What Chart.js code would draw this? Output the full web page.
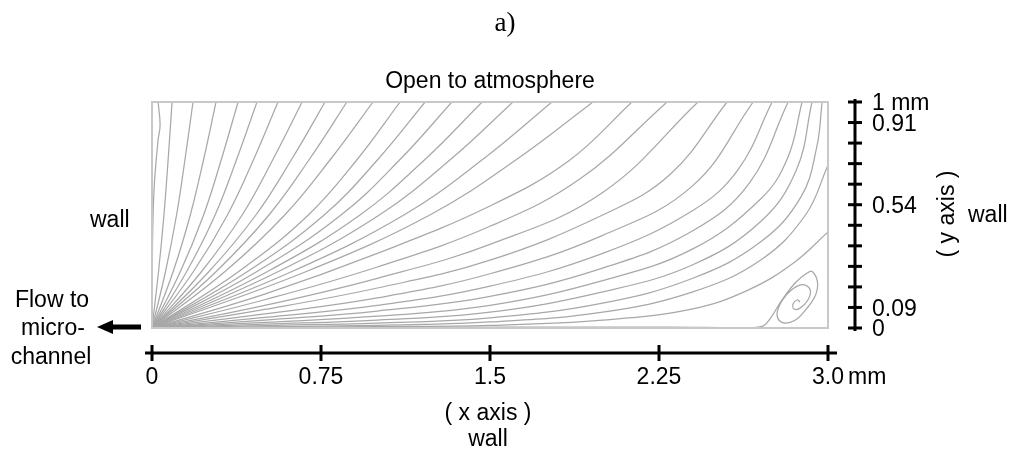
<!DOCTYPE html>
<html>
<head>
<meta charset="utf-8">
<script src="https://cdn.jsdelivr.net/npm/chart.js@4.4.1/dist/chart.umd.min.js"></script>
<style>
  html, body { margin: 0; padding: 0; background: #ffffff; }
  #wrap { width: 1018px; height: 458px; }
</style>
</head>
<body>
<div id="wrap"><canvas id="flow" width="1018" height="458"></canvas></div>
<script>
// Streamlines of the reservoir, in mm: x along the floor (0..3), y up to the free surface (0..1).
// Every line starts at the outlet corner (0, 0).

// Steep lines of the fan that reach the free surface near the left wall
const leftFanLines = [
  [[0,0],[0.002,0.345],[0.009,0.611],[0.027,0.832],[0.036,0.898],[0.027,1]],
  [[0,0],[0.029,0.25],[0.053,0.5],[0.072,0.75],[0.089,1]],
  [[0,0],[0.060,0.25],[0.109,0.5],[0.147,0.75],[0.182,1]],
  [[0,0],[0.094,0.25],[0.170,0.5],[0.230,0.75],[0.284,1]],
  [[0,0],[0.126,0.25],[0.229,0.5],[0.309,0.75],[0.382,1]],
  [[0,0],[0.154,0.25],[0.280,0.5],[0.377,0.75],[0.466,1]],
  [[0,0],[0.184,0.25],[0.335,0.5],[0.453,0.75],[0.559,1]],
  [[0,0],[0.220,0.25],[0.400,0.5],[0.539,0.75],[0.666,1]],
  [[0,0],[0.253,0.25],[0.461,0.5],[0.622,0.75],[0.768,1]],
  [[0,0],[0.285,0.25],[0.519,0.5],[0.701,0.75],[0.865,1]],
  [[0,0],[0.324,0.25],[0.589,0.5],[0.795,0.75],[0.981,1]]
];

// Lines of the middle of the fan
const middleLines = [
  [[0,0],[0.385,0.25],[0.694,0.5],[0.914,0.75],[1.101,1]],
  [[0,0],[0.424,0.25],[0.764,0.5],[1.006,0.75],[1.212,1]],
  [[0,0],[0.466,0.25],[0.839,0.5],[1.105,0.75],[1.331,1]],
  [[0,0],[0.513,0.25],[0.923,0.5],[1.216,0.75],[1.465,1]],
  [[0,0],[0.561,0.25],[1.009,0.5],[1.330,0.75],[1.602,1]],
  [[0,0],[0.621,0.25],[1.118,0.5],[1.473,0.75],[1.775,1]],
  [[0,0],[0.685,0.25],[1.233,0.5],[1.624,0.75],[1.957,1]]
];

// Shallow lines that run along the floor and bend up towards the right wall
const cornerLines = [
  [[0,0],[0.5,0.15],[1.0,0.33],[1.5,0.54],[1.85,0.74],[2.130,1]],
  [[0,0],[0.5,0.125],[1.0,0.27],[1.5,0.45],[1.9,0.66],[2.286,1]],
  [[0,0],[0.5,0.10],[1.0,0.22],[1.5,0.37],[2.0,0.60],[2.423,1]],
  [[0,0],[0.5,0.082],[1.0,0.177],[1.5,0.30],[2.0,0.50],[2.3,0.68],[2.552,1]],
  [[0,0],[0.5,0.062],[1.0,0.133],[1.5,0.24],[2.0,0.41],[2.4,0.63],[2.668,1]],
  [[0,0],[0.5,0.047],[1.0,0.100],[1.5,0.185],[2.0,0.33],[2.4,0.52],[2.6,0.70],[2.752,1]],
  [[0,0],[0.5,0.035],[1.0,0.075],[1.5,0.14],[2.0,0.265],[2.4,0.43],[2.65,0.64],[2.823,1]],
  [[0,0],[0.5,0.025],[1.0,0.052],[1.5,0.10],[2.0,0.21],[2.4,0.35],[2.7,0.57],[2.82,0.75],[2.885,1]],
  [[0,0],[0.5,0.017],[1.0,0.035],[1.5,0.07],[2.0,0.16],[2.4,0.28],[2.7,0.47],[2.86,0.70],[2.929,1]],
  [[0,0],[0.5,0.011],[1.0,0.022],[1.5,0.045],[2.0,0.11],[2.4,0.22],[2.7,0.38],[2.88,0.58],[2.95,0.80],[2.974,1]]
];

// Lines ending on the right wall
const wallLines = [
  [[0,0],[1.0,0.012],[1.5,0.027],[2.0,0.07],[2.4,0.16],[2.7,0.30],[2.9,0.50],[3.0,0.72]],
  [[0,0],[1.0,0.006],[1.5,0.012],[2.0,0.035],[2.4,0.085],[2.65,0.17],[2.85,0.29],[3.0,0.425]]
];

// Floor line that lifts off at the separation point and winds into the corner eddy
const eddyPath = [
  [0,0],[0.8,0.002],[1.6,0.004],[2.3,0.004],[2.65,0.002],[2.71,0.008],
  [2.745,0.044],[2.796,0.124],[2.854,0.199],[2.907,0.243],[2.930,0.250],
  [2.953,0.204],[2.945,0.146],[2.899,0.078],[2.852,0.033],[2.798,0.024],
  [2.774,0.058],[2.794,0.117],[2.840,0.170],[2.889,0.192],[2.921,0.168],
  [2.911,0.124],[2.876,0.088],[2.849,0.084],[2.845,0.106],[2.863,0.124],[2.876,0.115]
];

// Axis scales (mm)
const xTickValues = [0, 0.75, 1.5, 2.25, 3.0];
const xTickLabels = ['0', '0.75', '1.5', '2.25', '3.0'];
const yTickValues = [0, 0.0909, 0.1818, 0.2727, 0.3636, 0.4545, 0.5455, 0.6364, 0.7273, 0.8182, 0.9091, 1];
const yTickLabels = ['0', '0.09', '', '', '', '', '0.54', '', '', '', '0.91', '1 mm'];
const unitLabel = 'mm';

const SANS = '"Liberation Sans", Arial, Helvetica, sans-serif';
const SERIF = '"Liberation Serif", "Times New Roman", serif';
const LINE_GREY = 'rgb(168,168,168)';

function toPoints(list) { return list.map(p => ({ x: p[0], y: p[1] })); }

const datasets = [];
[leftFanLines, middleLines, cornerLines, wallLines, [eddyPath]].forEach(group => {
  group.forEach(line => {
    datasets.push({
      data: toPoints(line),
      showLine: true,
      borderColor: LINE_GREY,
      borderWidth: 1.25,
      pointRadius: 0,
      tension: 0.4,
      fill: false
    });
  });
});

function seg(ctx, x1, y1, x2, y2) {
  ctx.beginPath(); ctx.moveTo(x1, y1); ctx.lineTo(x2, y2); ctx.stroke();
}

// Frame, offset axes, annotations and outlet arrow
const decor = {
  id: 'decor',
  afterDatasetsDraw(chart) {
    const { ctx, chartArea: a, scales: { x, y } } = chart;
    ctx.save();

    // reservoir outline
    ctx.strokeStyle = 'rgb(200,200,200)';
    ctx.lineWidth = 2;
    ctx.strokeRect(a.left, a.top, a.right - a.left, a.bottom - a.top);

    ctx.fillStyle = '#000';
    ctx.strokeStyle = '#000';
    ctx.lineWidth = 3;
    ctx.lineCap = 'butt';

    // x axis below the floor
    const axY = a.bottom + 25;
    seg(ctx, a.left - 7, axY, a.right + 9, axY);
    ctx.font = '23px ' + SANS;
    ctx.textBaseline = 'alphabetic';
    xTickValues.forEach((v, i) => {
      const px = x.getPixelForValue(v);
      seg(ctx, px, axY - 8, px, axY + 8);
      ctx.textAlign = 'center';
      ctx.fillText(xTickLabels[i], px, 384);
      if (i === xTickValues.length - 1) {
        ctx.textAlign = 'left';
        ctx.fillText(unitLabel, px + 20, 384);
      }
    });
    ctx.textAlign = 'center';
    const midX = x.getPixelForValue(1.5);
    ctx.fillText('( x axis )', midX - 2, 420);
    ctx.fillText('wall', midX - 2, 446);

    // y axis right of the wall
    const axX = a.right + 27;
    seg(ctx, axX, y.getPixelForValue(1) - 3, axX, y.getPixelForValue(0) + 3);
    ctx.textAlign = 'left';
    ctx.textBaseline = 'middle';
    yTickValues.forEach((v, i) => {
      const py = y.getPixelForValue(v);
      seg(ctx, axX - 7, py, axX + 7, py);
      if (yTickLabels[i]) ctx.fillText(yTickLabels[i], axX + 17, py + 2);
    });
    ctx.save();
    ctx.translate(948, 214);
    ctx.rotate(-Math.PI / 2);
    ctx.textAlign = 'center';
    ctx.fillText('( y axis )', 0, 0);
    ctx.restore();
    ctx.textAlign = 'left';
    ctx.textBaseline = 'alphabetic';
    ctx.fillText('wall', 968, 222);

    // left wall and outlet
    ctx.fillText('wall', 90, 227);
    ctx.textAlign = 'center';
    ctx.fillText('Flow to', 52, 307);
    ctx.fillText('micro-', 53, 335);
    ctx.fillText('channel', 51, 364);

    // outlet arrow
    const ay = a.bottom - 1;
    ctx.beginPath();
    ctx.moveTo(97, ay);
    ctx.lineTo(113, ay - 7);
    ctx.lineTo(113, ay - 2.5);
    ctx.lineTo(141, ay - 2.5);
    ctx.lineTo(141, ay + 2.5);
    ctx.lineTo(113, ay + 2.5);
    ctx.lineTo(113, ay + 7);
    ctx.closePath();
    ctx.fill();

    // free-surface label and panel letter
    ctx.textAlign = 'center';
    ctx.fillText('Open to atmosphere', (a.left + a.right) / 2, 88);
    ctx.font = '27px ' + SERIF;
    ctx.fillText('a)', 505, 31);

    ctx.restore();
  }
};

new Chart(document.getElementById('flow').getContext('2d'), {
  type: 'scatter',
  data: { datasets },
  options: {
    responsive: false,
    animation: false,
    events: [],
    layout: { padding: { left: 152, right: 190, top: 102, bottom: 130 } },
    scales: {
      x: { type: 'linear', min: 0, max: 3, display: false },
      y: { type: 'linear', min: 0, max: 1, display: false }
    },
    plugins: { legend: { display: false }, tooltip: { enabled: false }, title: { display: false } },
    elements: { point: { radius: 0 } }
  },
  plugins: [decor]
});
</script>
</body>
</html>
